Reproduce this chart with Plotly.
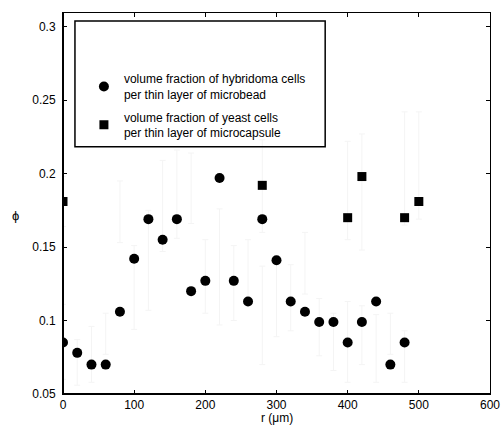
import plotly.graph_objects as go

# hybridoma cells in microbead (circles)
r_bead = [0, 20, 40, 60, 80, 100, 120, 140, 160, 180, 200, 220, 240,
          260, 280, 300, 320, 340, 360, 380, 400, 420, 440, 460, 480]
phi_bead = [0.085, 0.078, 0.070, 0.070, 0.106, 0.142, 0.169, 0.155, 0.169,
            0.120, 0.127, 0.197, 0.127, 0.113, 0.169, 0.141, 0.113, 0.106,
            0.099, 0.099, 0.085, 0.099, 0.113, 0.070, 0.085]
# faint error bars (low / high ends)
bead_lo = [0.060, 0.056, 0.058, 0.077, 0.153, 0.094, 0.107, 0.147, 0.156,
           0.166, 0.105, 0.097, 0.100, 0.113, 0.070, 0.089, 0.093, 0.118,
           0.076, 0.066, 0.058, 0.070, 0.058, 0.077, 0.058]
bead_hi = [0.111, 0.087, 0.096, 0.105, 0.195, 0.151, 0.175, 0.209, 0.216,
           0.214, 0.155, 0.176, 0.151, 0.155, 0.137, 0.138, 0.138, 0.160,
           0.115, 0.105, 0.113, 0.110, 0.104, 0.105, 0.093]

# yeast cells in microcapsule (squares)
r_caps = [0, 280, 400, 420, 480, 500]
phi_caps = [0.181, 0.192, 0.170, 0.198, 0.170, 0.181]
caps_lo = [0.164, 0.160, 0.155, 0.148, 0.165, 0.169]
caps_hi = [0.198, 0.223, 0.222, 0.227, 0.242, 0.242]

FONT = "Liberation Sans, Arial, Helvetica, sans-serif"
BAR = "#f4f4f4"


def bar_trace(xs, lo, hi):
    mid = [(a + b) / 2 for a, b in zip(lo, hi)]
    half = [(b - a) / 2 for a, b in zip(lo, hi)]
    return go.Scatter(x=xs, y=mid, mode="markers",
                      marker=dict(size=1, opacity=0),
                      error_y=dict(type="data", array=half, visible=True,
                                   color=BAR, thickness=1, width=3),
                      showlegend=False, hoverinfo="skip")


fig = go.Figure()
fig.add_trace(bar_trace(r_bead, bead_lo, bead_hi))
fig.add_trace(bar_trace(r_caps, caps_lo, caps_hi))
fig.add_trace(go.Scatter(
    x=r_bead, y=phi_bead, mode="markers", legendgroup="bead",
    marker=dict(symbol="circle", size=10, color="black"),
    name="volume fraction of hybridoma cells<br>per thin layer of microbead"))
fig.add_trace(go.Scatter(
    x=r_caps, y=phi_caps, mode="markers", legendgroup="caps",
    marker=dict(symbol="square", size=9, color="black"),
    name="volume fraction of yeast cells<br>per thin layer of microcapsule"))

axis_common = dict(showgrid=False, zeroline=False, showline=True,
                   linecolor="black", linewidth=1, mirror="allticks",
                   ticks="inside", ticklen=4, tickcolor="black",
                   automargin=False,
                   tickfont=dict(size=12, color="black", family=FONT))

fig.update_xaxes(range=[0, 600], tickvals=[0, 100, 200, 300, 400, 500, 600],
                 ticklabelstandoff=0, **axis_common)
fig.update_yaxes(range=[0.05, 0.3093],
                 tickvals=[0.05, 0.1, 0.15, 0.2, 0.25, 0.3],
                 ticktext=["0.05", "0.1", "0.15", "0.2", "0.25", "0.3"],
                 ticklabelstandoff=4, **axis_common)

fig.update_layout(
    width=503, height=432,
    margin=dict(l=63, r=13, t=13, b=38),
    plot_bgcolor="white", paper_bgcolor="white",
    font=dict(family=FONT, size=12, color="black"),
    showlegend=True,
    legend=dict(x=0.049, y=0.865, xanchor="left", yanchor="top",
                bgcolor="rgba(0,0,0,0)", borderwidth=0,
                font=dict(size=12, family=FONT, color="black"),
                tracegroupgap=4),
    shapes=[
        dict(type="rect", xref="paper", yref="paper",
             x0=0.028, x1=0.614, y0=0.649, y1=0.979,
             line=dict(color="black", width=1.5)),
        dict(type="line", xref="paper", yref="paper",
             x0=0, x1=0, y0=0, y1=1, line=dict(color="black", width=2)),
        dict(type="line", xref="paper", yref="paper",
             x0=0, x1=1, y0=0, y1=0, line=dict(color="black", width=2)),
    ],
    annotations=[
        dict(text="ϕ", xref="paper", yref="paper",
             x=-0.125, y=0.468, showarrow=False,
             font=dict(size=13, family=FONT, color="black")),
        dict(text="r (μm)", xref="paper", yref="paper",
             x=0.5, y=0, yanchor="top", yshift=-15, showarrow=False,
             font=dict(size=12, family=FONT, color="black")),
    ],
)

# page has a default body margin; drop it so the figure fills the window
fig.write_html("out.html", config={"displayModeBar": False},
               post_script="document.body.style.margin='0';")
